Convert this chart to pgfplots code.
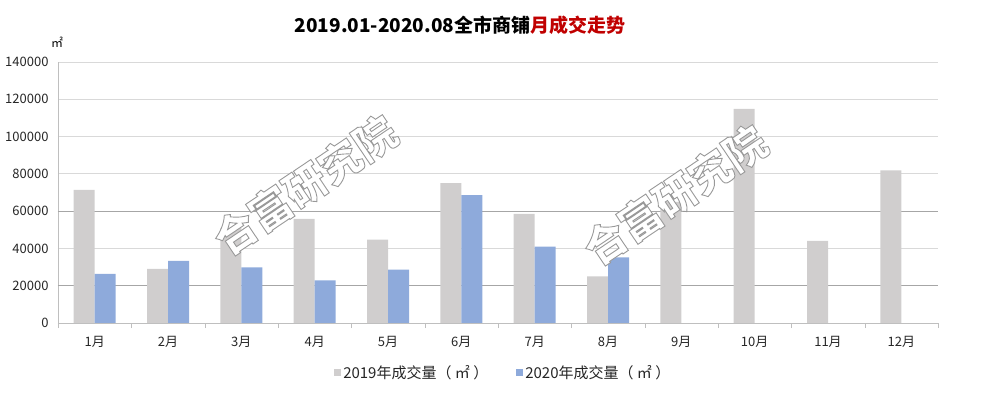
\documentclass[border=0pt]{standalone}
\usepackage{fontspec}
\setmainfont{Noto Sans CJK SC}
\usepackage{pgfplots}
\pgfplotsset{compat=1.18}
\definecolor{c19}{HTML}{D0CECE}
\definecolor{c20}{HTML}{8EAADB}
\definecolor{gridc}{HTML}{D9D9D9}
\definecolor{gridd}{HTML}{A6A6A6}
\definecolor{axc}{HTML}{BFBFBF}
\definecolor{tred}{HTML}{C00000}
\definecolor{txt}{HTML}{262626}
\newcommand{\outlined}[1]{\special{pdf:literal direct 2 Tr 0.9 w 1 g 0.6 G}#1\special{pdf:literal direct 0 Tr}}
\begin{document}
\begin{tikzpicture}
\begin{axis}[
  at={(58pt,70pt)}, anchor=south west,
  scale only axis, width=880pt, height=261pt,
  xmin=0.5, xmax=12.5, ymin=0, ymax=140000,
  ybar=0pt, bar width=21pt,
  xtick={1,...,12},
  xticklabels={1月,2月,3月,4月,5月,6月,7月,8月,9月,10月,11月,12月},
  major x tick style={draw=none},
  minor xtick={0.5,1.5,...,12.5},
  minor x tick style={draw=axc},
  minor tick length=5pt, major tick length=0pt, tick align=outside,
  ytick={0,20000,40000,60000,80000,100000,120000,140000},
  yticklabels={0,20000,40000,60000,80000,100000,120000,140000},
  ytick style={draw=none},
  extra y ticks={20000,60000},
  extra y tick labels={},
  extra y tick style={ymajorgrids=true, major grid style={draw=gridd, line width=0.6pt}},
  scaled y ticks=false,
  axis x line*=bottom, axis y line*=left,
  axis line style={draw=axc,-},
  ymajorgrids, grid style={draw=gridc, line width=0.8pt},
  tick label style={font=\fontsize{13}{15}\selectfont, text=txt},
  xticklabel style={yshift=-10pt},
  yticklabel style={xshift=-6pt},
  legend style={at={(0.506,-0.19)}, anchor=center, legend columns=2, draw=none,
    font=\fontsize{15}{17}\selectfont, text=txt,
    /tikz/every even column/.append style={column sep=26pt}},
  legend image code/.code={\fill[#1,draw=none] (0pt,-3.5pt) rectangle (7pt,3.5pt);},
]
\addplot[fill=c19, draw=none] coordinates {(1,71400) (2,29000) (3,51000) (4,55900) (5,44700) (6,75000) (7,58600) (8,25000) (9,65000) (10,114900) (11,44000) (12,81900)};
\addplot[fill=c20, draw=none] coordinates {(1,26300) (2,33300) (3,29900) (4,22900) (5,28600) (6,68600) (7,40900) (8,35200)};
\legend{2019年成交量（ ㎡ ）,2020年成交量（ ㎡ ）}
\end{axis}
\node[rotate=34, text=gray, font=\bfseries\fontsize{42}{44}\selectfont] at (305pt,208pt) {\outlined{合富研究院}};
\node[rotate=34, text=gray, font=\bfseries\fontsize{42}{44}\selectfont] at (675pt,198pt) {\outlined{合富研究院}};
\node[font=\bfseries\fontsize{19}{22}\selectfont, text=black] at (460pt,368pt) {2019.01-2020.08全市商铺\textcolor{tred}{月成交走势}};
\node[font=\fontsize{12}{14}\selectfont, text=black] at (57pt,351pt) {㎡};
\pgfresetboundingbox
\useasboundingbox (0,0) rectangle (1000pt,393pt);
\end{tikzpicture}
\end{document}
